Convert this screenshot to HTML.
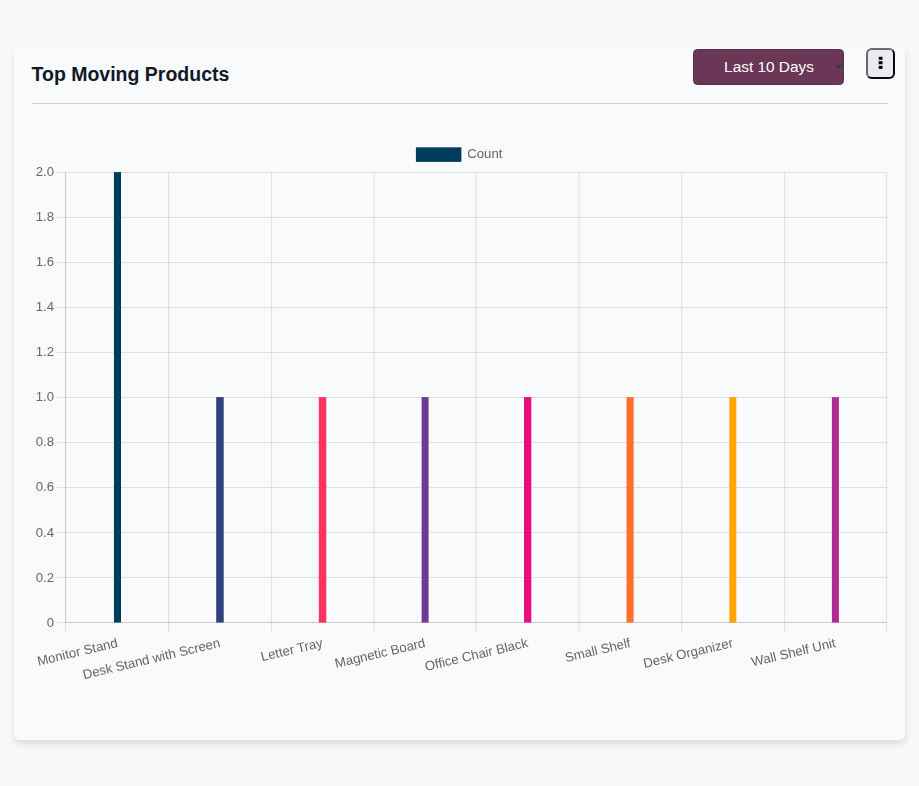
<!DOCTYPE html>
<html><head><meta charset="utf-8"><title>Top Moving Products</title>
<style>
html,body{margin:0;padding:0;}
body{width:919px;height:786px;background:#f8f9fb;position:relative;overflow:hidden;font-family:"Liberation Sans",sans-serif;}
.card{position:absolute;left:14.2px;top:45.7px;width:890.85px;height:694.35px;background:#f9fafc;border-radius:5.5px;box-shadow:0.8px 4.4px 6.2px rgba(0,0,0,0.1);}
.title{position:absolute;left:31.5px;top:62px;font-weight:bold;font-size:19.5px;line-height:24px;color:#111827;white-space:nowrap;}
.hr{position:absolute;left:32px;top:103px;width:856px;height:1.1px;background:#c9cacf;}
.sel{position:absolute;left:693px;top:49px;width:151px;height:36px;box-sizing:border-box;background:#6b3757;border:1px solid #5e2f4c;border-radius:4.4px;color:#fff;font-size:15.4px;line-height:34px;text-align:center;}
.sel span{position:absolute;left:0.5px;width:149px;top:0;}
.arrow{position:absolute;left:835px;top:65px;width:0;height:0;border-left:4px solid transparent;border-right:4px solid transparent;border-top:4.4px solid #313a4f;}
.kebab{position:absolute;left:866.1px;top:48.1px;width:29px;height:30.7px;box-sizing:border-box;background:#eae9f6;border:2.2px solid #0a0a0a;border-top-color:#6a6a6a;border-left-color:#6a6a6a;border-radius:5.8px;}
.kebab i{position:absolute;left:10.5px;width:3.4px;height:3.1px;background:#000;}
</style></head><body>
<div class="card"></div>
<div class="title">Top Moving Products</div>
<div class="sel"><span>Last 10 Days</span></div>
<div class="arrow"></div>
<div class="kebab"></div>
<div class="hr"></div>
<svg width="919" height="786" viewBox="0 0 919 786" style="position:absolute;left:0;top:0;will-change:transform" font-family="Liberation Sans, sans-serif" font-size="13.2" fill="#666">
<line x1="65.55" y1="172.55" x2="65.55" y2="632.05" stroke="rgba(0,0,0,0.1)" stroke-width="1.1"/>
<line x1="168.55" y1="172.55" x2="168.55" y2="632.05" stroke="rgba(0,0,0,0.1)" stroke-width="1.1"/>
<line x1="271.55" y1="172.55" x2="271.55" y2="632.05" stroke="rgba(0,0,0,0.1)" stroke-width="1.1"/>
<line x1="374.10" y1="172.55" x2="374.10" y2="632.05" stroke="rgba(0,0,0,0.1)" stroke-width="1.1"/>
<line x1="476.00" y1="172.55" x2="476.00" y2="632.05" stroke="rgba(0,0,0,0.1)" stroke-width="1.1"/>
<line x1="578.95" y1="172.55" x2="578.95" y2="632.05" stroke="rgba(0,0,0,0.1)" stroke-width="1.1"/>
<line x1="681.75" y1="172.55" x2="681.75" y2="632.05" stroke="rgba(0,0,0,0.1)" stroke-width="1.1"/>
<line x1="784.65" y1="172.55" x2="784.65" y2="632.05" stroke="rgba(0,0,0,0.1)" stroke-width="1.1"/>
<line x1="886.60" y1="172.55" x2="886.60" y2="632.05" stroke="rgba(0,0,0,0.1)" stroke-width="1.1"/>
<line x1="57.0" y1="172.55" x2="886.80" y2="172.55" stroke="rgba(0,0,0,0.1)" stroke-width="1.1"/>
<line x1="57.0" y1="217.55" x2="886.80" y2="217.55" stroke="rgba(0,0,0,0.1)" stroke-width="1.1"/>
<line x1="57.0" y1="262.55" x2="886.80" y2="262.55" stroke="rgba(0,0,0,0.1)" stroke-width="1.1"/>
<line x1="57.0" y1="307.55" x2="886.80" y2="307.55" stroke="rgba(0,0,0,0.1)" stroke-width="1.1"/>
<line x1="57.0" y1="352.55" x2="886.80" y2="352.55" stroke="rgba(0,0,0,0.1)" stroke-width="1.1"/>
<line x1="57.0" y1="397.55" x2="886.80" y2="397.55" stroke="rgba(0,0,0,0.1)" stroke-width="1.1"/>
<line x1="57.0" y1="442.55" x2="886.80" y2="442.55" stroke="rgba(0,0,0,0.1)" stroke-width="1.1"/>
<line x1="57.0" y1="487.55" x2="886.80" y2="487.55" stroke="rgba(0,0,0,0.1)" stroke-width="1.1"/>
<line x1="57.0" y1="532.55" x2="886.80" y2="532.55" stroke="rgba(0,0,0,0.1)" stroke-width="1.1"/>
<line x1="57.0" y1="577.55" x2="886.80" y2="577.55" stroke="rgba(0,0,0,0.1)" stroke-width="1.1"/>
<line x1="57.0" y1="622.55" x2="886.80" y2="622.55" stroke="rgba(0,0,0,0.1)" stroke-width="1.1"/>
<line x1="65.55" y1="172.55" x2="65.55" y2="622.55" stroke="rgba(0,0,0,0.1)" stroke-width="1.1"/>
<line x1="65.50" y1="622.55" x2="886.80" y2="622.55" stroke="rgba(0,0,0,0.1)" stroke-width="1.1"/>
<rect x="113.95" y="172.10" width="7.05" height="450.45" fill="#003c5c"/>
<rect x="216.2" y="397.10" width="7.5" height="225.45" fill="#30417d"/>
<rect x="318.8" y="397.10" width="7.5" height="225.45" fill="#ff335d"/>
<rect x="421.6" y="397.10" width="7.0" height="225.45" fill="#6f3a93"/>
<rect x="524.0" y="397.10" width="7.3" height="225.45" fill="#e90c84"/>
<rect x="626.5" y="397.10" width="7.1" height="225.45" fill="#ff6f2b"/>
<rect x="729.33" y="397.10" width="7.0" height="225.45" fill="#ffa600"/>
<rect x="831.9" y="397.10" width="7.0" height="225.45" fill="#b02a92"/>
<text x="54.0" y="176" text-anchor="end">2.0</text>
<text x="54.0" y="221" text-anchor="end">1.8</text>
<text x="54.0" y="266" text-anchor="end">1.6</text>
<text x="54.0" y="311" text-anchor="end">1.4</text>
<text x="54.0" y="356" text-anchor="end">1.2</text>
<text x="54.0" y="401" text-anchor="end">1.0</text>
<text x="54.0" y="446" text-anchor="end">0.8</text>
<text x="54.0" y="491" text-anchor="end">0.6</text>
<text x="54.0" y="537" text-anchor="end">0.4</text>
<text x="54.0" y="582" text-anchor="end">0.2</text>
<text x="54.0" y="627" text-anchor="end">0</text>
<text transform="translate(118.30,646.80) rotate(-13.3)" text-anchor="end">Monitor Stand</text>
<text transform="translate(220.87,646.80) rotate(-13.3)" text-anchor="end">Desk Stand with Screen</text>
<text transform="translate(323.44,646.80) rotate(-13.3)" text-anchor="end">Letter Tray</text>
<text transform="translate(426.01,646.80) rotate(-13.3)" text-anchor="end">Magnetic Board</text>
<text transform="translate(528.59,646.80) rotate(-13.3)" text-anchor="end">Office Chair Black</text>
<text transform="translate(631.16,646.80) rotate(-13.3)" text-anchor="end">Small Shelf</text>
<text transform="translate(733.73,646.80) rotate(-13.3)" text-anchor="end">Desk Organizer</text>
<text transform="translate(836.30,646.80) rotate(-13.3)" text-anchor="end">Wall Shelf Unit</text>
<rect x="415.9" y="147.3" width="45.5" height="14.6" fill="#003c5c"/>
<text x="467.2" y="158">Count</text>
<rect x="878.7" y="56.8" width="3.8" height="3.0" fill="#000"/><rect x="878.7" y="61.2" width="3.8" height="3.1" fill="#000"/><rect x="878.7" y="65.9" width="3.8" height="3.0" fill="#000"/>
</svg>
</body></html>
